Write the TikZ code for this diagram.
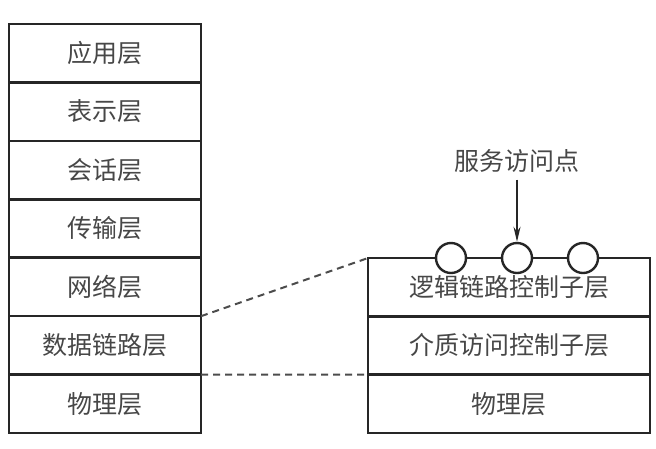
\documentclass[tikz,border=0pt]{standalone}
\usepackage{fontspec}
\newfontfamily\cjk{Noto Sans CJK SC}
\usetikzlibrary{arrows.meta}
\begin{document}
\begin{tikzpicture}[x=1pt,y=-1pt,
  layer/.style={draw=black!85,line width=2.4pt,rectangle,inner sep=0pt,outer sep=0pt,
    font=\cjk\fontsize{25}{29}\selectfont,text=black!72},
  lcell/.style={layer,minimum width=192pt,minimum height=58.43pt},
  rcell/.style={layer,minimum width=282pt,minimum height=58.33pt},
  sap/.style={circle,draw=black!85,fill=white,line width=2.4pt,minimum size=30pt,inner sep=0pt},
  dashline/.style={draw=black!70,dashed,dash pattern=on 7pt off 5pt,line width=2pt}]
\useasboundingbox (0,0) rectangle (656,448);
% left stack
\node[lcell] (app)  at (105,53.2)  {应用层};
\node[lcell] (pre)  at (105,111.6) {表示层};
\node[lcell] (ses)  at (105,170.1) {会话层};
\node[lcell] (tra)  at (105,228.5) {传输层};
\node[lcell] (net)  at (105,286.9) {网络层};
\node[lcell] (dl)   at (105,345.4) {数据链路层};
\node[lcell] (phy)  at (105,403.8) {物理层};
% right stack
\node[rcell] (llc)  at (509,287.2) {逻辑链路控制子层};
\node[rcell] (mac)  at (509,345.5) {介质访问控制子层};
\node[rcell] (rphy) at (509,403.8) {物理层};
% service access points
\node[sap] (c1) at (451,258) {};
\node[sap] (c2) at (517,258) {};
\node[sap] (c3) at (583,258) {};
\node[font=\cjk\fontsize{25}{29}\selectfont,text=black!72,inner sep=0pt] (lbl) at (517,161) {服务访问点};
\draw[line width=2pt,draw=black!85,-{Stealth[length=15pt,width=7pt]}] ([yshift=-7pt]lbl.south) -- (c2.north);
% dashed connectors
\draw[dashline] (dl.north east) -- (llc.north west);
\draw[dashline] (dl.south east) -- (rphy.north west);
\end{tikzpicture}
\end{document}
